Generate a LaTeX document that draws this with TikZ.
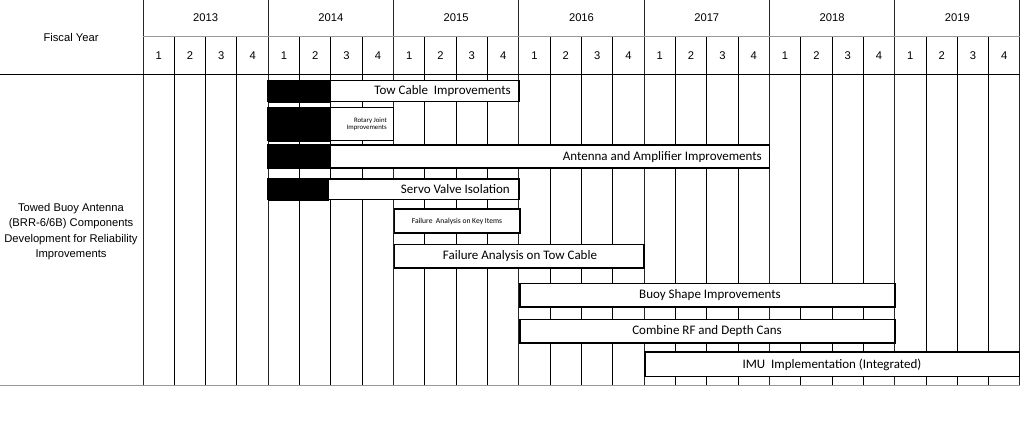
\documentclass[tikz,border=0pt]{standalone}
\usepackage{fontspec}
\setmainfont{Liberation Sans}
\newfontfamily\barfont{Carlito}
\begin{document}
\begin{tikzpicture}[x=1pt,y=-1pt,
  qline/.style={line width=1pt,black},
  yline/.style={line width=1pt,black!85},
  sepline/.style={line width=1.3pt,gray!80},
  headtxt/.style={font=\fontsize{11.2}{13}\selectfont,inner sep=0pt},
  barbox/.style={draw=black,line width=1.7pt,fill=white},
  blackpart/.style={fill=black},
  bartxt/.style={font=\barfont\fontsize{13}{15}\selectfont,inner sep=0pt},
  smalltxt/.style={font=\barfont\fontsize{7.6}{9}\selectfont,inner sep=0pt},
  tinytxt/.style={font=\barfont\fontsize{6.8}{8}\selectfont,inner sep=0pt,align=right}]
\useasboundingbox[fill=white] (0,0) rectangle (1021,437);
\def\xo{143}
\def\qw{31.32}
% quarter lines (inside each year)
\foreach \i in {1,...,27}{
  \pgfmathsetmacro{\xx}{\xo+\qw*\i}
  \pgfmathtruncatemacro{\m}{mod(\i,4)}
  \ifnum\m=0
    \draw[yline] (\xx,0) -- (\xx,385.5);
  \else
    \draw[qline] (\xx,36.5) -- (\xx,385.5);
  \fi
}
% outer verticals of the time grid
\draw[yline] (\xo,0) -- (\xo,385.5);
\pgfmathsetmacro{\xend}{\xo+\qw*28}
\draw[yline] (\xend,0) -- (\xend,385.5);
% horizontal rules
\draw[sepline] (\xo,36.5) -- (\xend,36.5);
\draw[qline] (0,74) -- (\xend,74);
\draw[sepline] (0,385.5) -- (\xend,385.5);
% year and quarter labels
\foreach \yr [count=\k from 0] in {2013,2014,2015,2016,2017,2018,2019}{
  \pgfmathsetmacro{\xc}{\xo+\qw*(4*\k+2)}
  \node[headtxt] (yr\yr) at (\xc,17.5) {\yr};
  \foreach \q in {1,2,3,4}{
    \pgfmathsetmacro{\xq}{\xo+\qw*(4*\k+\q-0.5)}
    \node[headtxt] (q\yr-\q) at (\xq,55.5) {\q};
  }
}
\node[headtxt] (fy) at (71,37) {Fiscal Year};
\node[headtxt,align=center,font=\fontsize{11.2}{15.2}\selectfont] (task) at (71,231.5)
  {Towed Buoy Antenna\\(BRR-6/6B) Components\\Development for Reliability\\Improvements};
% bars
\def\qa{268.28}  % start of 2014
\def\qb{330.92}  % 2014 Q3
\def\qc{393.56}  % start of 2015
\def\qd{518.84}  % start of 2016
\def\qe{644.12}  % start of 2017
\def\qf{769.40}  % start of 2018
\def\qg{894.68}  % start of 2019
% Tow Cable Improvements
\draw[barbox] (\qa,80.5) rectangle (\qd,101.5);
\fill[blackpart] (\qa,79.5) rectangle (\qb,102.5);
\node[bartxt,anchor=east] (b1) at (511,91) {Tow Cable\ \ Improvements};
% Rotary Joint Improvements
\draw[barbox] (\qa,107.5) rectangle (\qc,140.5);
\fill[blackpart] (\qa,106.5) rectangle (\qb,141.5);
\node[tinytxt,anchor=east] (b2) at (387,124) {Rotary Joint\\[-1.2pt]Improvements};
% Antenna and Amplifier Improvements
\draw[barbox] (\qa,145) rectangle (\qf,168);
\fill[blackpart] (\qa,144) rectangle (\qb,169);
\node[bartxt,anchor=east] (b3) at (762,157) {Antenna and Amplifier Improvements};
% Servo Valve Isolation
\draw[barbox] (\qa,179) rectangle (\qd,199.5);
\fill[blackpart] (\qa,178) rectangle (328.5,200.5);
\node[bartxt,anchor=east] (b4) at (510,189.5) {Servo Valve Isolation};
% Failure Analysis on Key Items
\draw[barbox] (394.5,209) rectangle (520,233);
\node[smalltxt] (b5) at (457,221) {Failure\ \ Analysis on Key Items};
% Failure Analysis on Tow Cable
\draw[barbox] (394.5,244.5) rectangle (\qe,268);
\node[bartxt] (b6) at (520,256.5) {Failure Analysis on Tow Cable};
% Buoy Shape Improvements
\draw[barbox] (520,283.5) rectangle (\qg,307);
\node[bartxt] (b7) at (710,295.5) {Buoy Shape Improvements};
% Combine RF and Depth Cans
\draw[barbox] (520,319.5) rectangle (\qg,343);
\node[bartxt] (b8) at (707,331) {Combine RF and Depth Cans};
% IMU Implementation (Integrated)
\draw[barbox] (645,352) rectangle (1019.5,376.5);
\node[bartxt] (b9) at (832,364.5) {IMU\ \ Implementation (Integrated)};
\end{tikzpicture}
\end{document}
